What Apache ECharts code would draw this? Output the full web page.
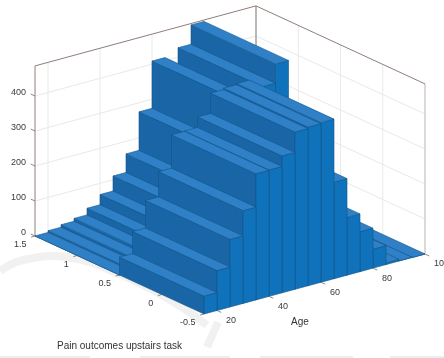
<!DOCTYPE html>
<html>
<head>
<meta charset="utf-8">
<style>
  html, body { margin: 0; padding: 0; background: #fff; }
  #main { width: 444px; height: 358px; }
</style>
<script src="https://cdn.jsdelivr.net/npm/echarts@6/dist/echarts.min.js"></script>
</head>
<body>
<div id="main"></div>
<script>
// lower edge of each 5 year age bin
var ageBins = [15, 20, 25, 30, 35, 40, 45, 50, 55, 60, 65, 70, 75, 80, 85, 90, 95];
var frontCounts = [51, 114, 193, 265, 360, 361, 391, 449, 453, 456, 276, 165, 114, 54, 5, 1, 0];
var backCounts = [0, 5, 12, 20, 39, 68, 111, 164, 274, 409, 375, 427, 482, 270, 155, 75, 15];

var ageTicks = [20, 40, 60, 80, 100];
var sideTicks = [-0.5, 0, 0.5, 1, 1.5];
var sideTickLabels = ['-0.5', '0', '0.5', '1', '1.5'];
var countTicks = [0, 100, 200, 300, 400];

var ageMin = 15, ageMax = 100, sideMin = -0.5, sideMax = 1.5, countMax = 486;
var FONT = '"Liberation Sans", Arial, sans-serif';

// oblique view of (age, side, count) on the flat view plane
function project(age, side, count) {
    return [
        204 + (age - ageMin) * 2.6 - (side - sideMin) * 84.5,
        314 - (age - ageMin) * 0.706 - (side - sideMin) * 39 - count * 0.35
    ];
}

function face(api, corners, color) {
    return {
        type: 'polygon',
        shape: { points: corners.map(function (c) { return api.coord(project(c[0], c[1], c[2])); }) },
        style: { fill: color, stroke: '#11568c', lineWidth: 0.6 }
    };
}

function renderBar(params, api) {
    var a0 = api.value(0), a1 = a0 + 5;
    var s0 = api.value(1) - 0.5, s1 = s0 + 1;
    var h = api.value(2);
    return {
        type: 'group',
        children: [
            face(api, [[a0, s0, 0], [a0, s1, 0], [a0, s1, h], [a0, s0, h]], '#1a65a6'),
            face(api, [[a0, s0, 0], [a1, s0, 0], [a1, s0, h], [a0, s0, h]], '#1072ba'),
            face(api, [[a0, s0, h], [a1, s0, h], [a1, s1, h], [a0, s1, h]], '#2f80c6')
        ]
    };
}

function line3d(api, p, q, color, width) {
    var a = api.coord(project(p[0], p[1], p[2]));
    var b = api.coord(project(q[0], q[1], q[2]));
    return {
        type: 'line',
        shape: { x1: a[0], y1: a[1], x2: b[0], y2: b[1] },
        style: { stroke: color, lineWidth: width }
    };
}

function label3d(api, p, text, dx, dy, align) {
    var a = api.coord(project(p[0], p[1], p[2]));
    return {
        type: 'text',
        x: a[0] + dx,
        y: a[1] + dy,
        style: { text: text, fill: '#3a3a3a', font: '9px ' + FONT, align: align, verticalAlign: 'middle' }
    };
}

function renderBox(params, api) {
    var kids = [];
    var gridColor = '#e9e9e9', frameColor = '#8d7f78';

    ageTicks.forEach(function (t) {
        kids.push(line3d(api, [t, sideMax, 0], [t, sideMax, countMax], gridColor, 1));
        kids.push(line3d(api, [t, sideMin, 0], [t, sideMax, 0], gridColor, 1));
        kids.push(line3d(api, [t, sideMin, 0], [t, sideMin - 0.05, 0], '#555', 0.7));
        kids.push(label3d(api, [t, sideMin, 0], String(t), 9, 10, 'left'));
    });
    sideTicks.forEach(function (t, i) {
        kids.push(line3d(api, [ageMax, t, 0], [ageMax, t, countMax], gridColor, 1));
        kids.push(line3d(api, [ageMin, t, 0], [ageMax, t, 0], gridColor, 1));
        kids.push(line3d(api, [ageMin, t, 0], [ageMin - 1.5, t, 0], '#555', 0.7));
        kids.push(label3d(api, [ageMin, t, 0], sideTickLabels[i], -8.5, 8.8, 'right'));
    });
    countTicks.forEach(function (t) {
        kids.push(line3d(api, [ageMin, sideMax, t], [ageMax, sideMax, t], gridColor, 1));
        kids.push(line3d(api, [ageMax, sideMin, t], [ageMax, sideMax, t], gridColor, 1));
        kids.push(line3d(api, [ageMin, sideMax, t], [ageMin, sideMax + 0.05, t], '#555', 0.7));
        kids.push(label3d(api, [ageMin, sideMax, t], String(t), -9, -3, 'right'));
    });

    kids.push(line3d(api, [ageMin, sideMax, 0], [ageMin, sideMax, countMax], frameColor, 1));
    kids.push(line3d(api, [ageMax, sideMax, 0], [ageMax, sideMax, countMax], frameColor, 1));
    kids.push(line3d(api, [ageMax, sideMin, 0], [ageMax, sideMin, countMax], '#c9bcb8', 1));
    kids.push(line3d(api, [ageMin, sideMax, countMax], [ageMax, sideMax, countMax], frameColor, 1));
    kids.push(line3d(api, [ageMax, sideMin, countMax], [ageMax, sideMax, countMax], frameColor, 1));
    return { type: 'group', children: kids };
}

// far bars first so the nearer ones paint over them
function rowData(counts, side) {
    var rows = [];
    for (var i = ageBins.length - 1; i >= 0; i--) {
        rows.push([ageBins[i], side, counts[i]]);
    }
    return rows;
}

var myChart = echarts.init(document.getElementById('main'), null, { renderer: 'canvas' });

var option = {
    animation: false,
    backgroundColor: '#fff',
    grid: { left: 0, right: 0, top: 0, bottom: 0 },
    xAxis: { type: 'value', min: 0, max: 444, show: false },
    yAxis: { type: 'value', min: 0, max: 358, inverse: true, show: false },
    title: {
        text: 'Pain outcomes upstairs task',
        left: 57,
        top: 341,
        padding: 0,
        textStyle: { fontFamily: FONT, fontSize: 10, fontWeight: 'normal', color: '#333' }
    },
    graphic: [
        {
            // faint watermark behind the plot
            type: 'polyline',
            shape: { points: [[0, 271], [23, 260], [67, 257], [117, 273], [167, 298], [207, 325]], smooth: 0.4 },
            style: { stroke: '#f1f1f1', lineWidth: 8, fill: null }
        },
        {
            type: 'line',
            shape: { x1: 218, y1: 322, x2: 207, y2: 347 },
            style: { stroke: '#f1f1f1', lineWidth: 8 }
        },
        {
            type: 'line',
            shape: { x1: 0, y1: 357, x2: 444, y2: 357 },
            style: { stroke: '#eeeeee', lineWidth: 2, lineDash: [90, 50, 90, 30, 93, 37, 54, 0] }
        },
        {
            type: 'text',
            x: 291,
            y: 317,
            style: { text: 'Age', fill: '#333', font: '10px ' + FONT }
        }
    ],
    series: [
        { type: 'custom', name: 'box', renderItem: renderBox, data: [[0, 0]], clip: false, silent: true },
        { type: 'custom', name: 'back row', renderItem: renderBar, data: rowData(backCounts, 1), clip: false },
        { type: 'custom', name: 'front row', renderItem: renderBar, data: rowData(frontCounts, 0), clip: false }
    ]
};
myChart.setOption(option);
</script>
</body>
</html>
